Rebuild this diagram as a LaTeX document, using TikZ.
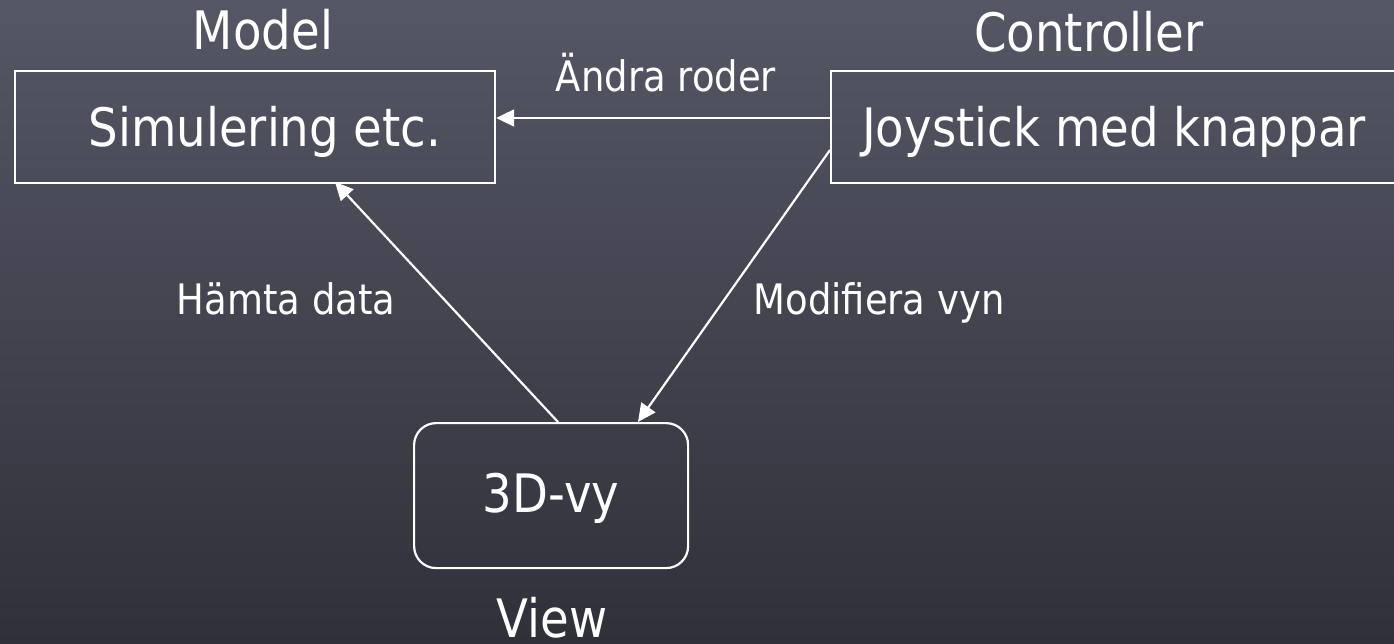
\documentclass[tikz,border=0pt]{standalone}
\usepackage{fontspec}
\setmainfont[FakeStretch=0.88]{DejaVu Sans}
\usetikzlibrary{arrows.meta}
\definecolor{bgtop}{RGB}{86,87,102}
\definecolor{bgbot}{RGB}{47,48,56}
\begin{document}
\begin{tikzpicture}[x=1pt,y=-1pt,
  big/.style={text=white,font=\fontsize{53}{60}\selectfont,inner sep=0pt},
  small/.style={text=white,font=\fontsize{42}{48}\selectfont,inner sep=0pt},
  boxrect/.style={draw=white,line width=2.2pt},
  conn/.style={draw=white,line width=2.2pt,-{Triangle[width=17pt,length=18pt]}}]
\shade[top color=bgtop,bottom color=bgbot] (0,0) rectangle (1394,644);
\useasboundingbox (0,0) rectangle (1394,644);
\begin{scope}
\clip (0,0) rectangle (1394,644);
\node[boxrect,minimum width=480pt,minimum height=112pt,anchor=north west] (model) at (14,70) {};
\node[boxrect,minimum width=580pt,minimum height=112pt,anchor=north west] (ctrl) at (830,70) {};
\end{scope}
\node[boxrect,rounded corners=22pt,minimum width=274pt,minimum height=145pt,anchor=north west] (view) at (413,422) {};
\node[big,anchor=base] (simtxt) at (265,147) {Simulering etc.};
\node[big,anchor=base] (joytxt) at (1114,147) {Joystick med knappar};
\node[big,anchor=base] (vytxt) at (551,512) {3D-vy};
\node[big,anchor=base] (modellbl) at (263,50) {Model};
\node[big,anchor=base] (ctrllbl) at (1089,52) {Controller};
\node[big,anchor=base] (viewlbl) at (552,637) {View};
\node[small,anchor=base] (andra) at (666,92) {Ändra roder};
\node[small,anchor=base] (hamta) at (286,314) {Hämta data};
\node[small,anchor=base] (modif) at (879,314) {Modifiera vyn};
\coordinate (c1) at (ctrl.west |- 0,118);
\coordinate (m1) at (model.east |- 0,118);
\coordinate (c2) at (ctrl.west |- 0,150);
\coordinate (v2) at (638,422);
\coordinate (v1) at (558,422);
\coordinate (m2) at (335,182);
\draw[conn] (c1) -- (m1);
\draw[conn] (c2) -- (v2);
\draw[conn] (v1) -- (m2);
\end{tikzpicture}
\end{document}
